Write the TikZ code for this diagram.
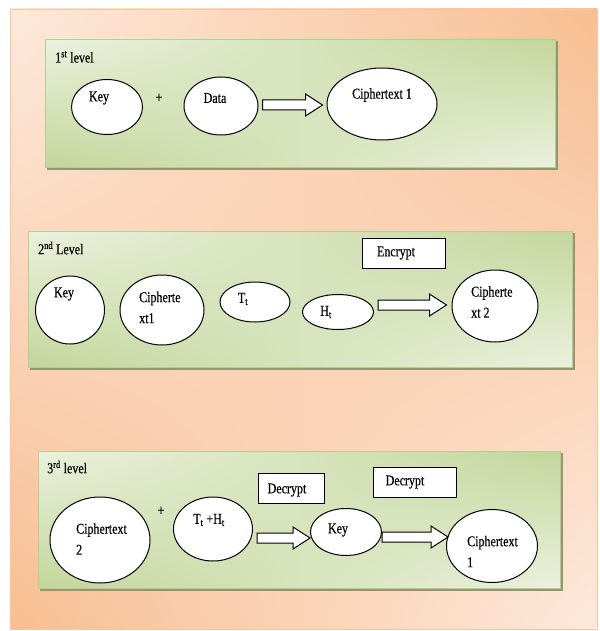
\documentclass[tikz,border=0pt]{standalone}
\usepackage{fontspec}
\setmainfont[FakeStretch=0.8,FakeBold=0.35]{Liberation Serif}
\usetikzlibrary{calc,shadings,shapes.geometric}

\definecolor{peachlight}{HTML}{FDE9DC}
\definecolor{peachdark}{HTML}{F8BE91}
\definecolor{peachrim}{HTML}{F7C6A0}
\definecolor{greenlight}{HTML}{EBF1DE}
\definecolor{greendark}{HTML}{C3D69B}
\definecolor{panelrim}{HTML}{B9CC92}
\definecolor{panelshadow}{HTML}{8F9870}

\tikzset{
  every node/.style={font=\fontsize{15}{21}\selectfont, inner sep=0pt},
  bubble/.style={ellipse, draw=black, line width=1pt, fill=white},
  tagbox/.style={draw=black, line width=1pt, fill=white},
  blockarrow/.style={draw=black, line width=1pt, fill=white, line join=miter},
  backdrop/.style={shading=bilinear interpolation,
    upper left=peachlight, upper right=peachdark,
    lower left=peachdark, lower right=peachlight, draw=peachrim, line width=0.6pt},
  levelpanel/.style={shading=bilinear interpolation,
    upper left=greenlight, upper right=greendark,
    lower left=greendark, lower right=greenlight, draw=panelrim, line width=0.6pt},
  panelshade/.style={fill=panelshadow},
}

% hollow block arrow from coordinate #1 to coordinate #2 (horizontal)
\newcommand{\blockarr}[2]{%
  \draw[blockarrow] let \p1=(#1), \p2=(#2) in
    (\x1,\y1-5pt) -- (\x2-17pt,\y1-5pt) -- (\x2-17pt,\y1-11pt) -- (\x2,\y1)
    -- (\x2-17pt,\y1+11pt) -- (\x2-17pt,\y1+5pt) -- (\x1,\y1+5pt) -- cycle;}

\begin{document}
\begin{tikzpicture}[x=1pt,y=-1pt]
\useasboundingbox (0,0) rectangle (599,631);

% background
\shadedraw[backdrop] (10,9) rectangle (597,629);

% level panels with drop shadows
\fill[panelshade] (47,41) rectangle (558,170);
\shadedraw[levelpanel] (45,39) rectangle (555,167);
\fill[panelshade] (30,233) rectangle (575,370);
\shadedraw[levelpanel] (28,231) rectangle (572,367);
\fill[panelshade] (40,453) rectangle (563,591);
\shadedraw[levelpanel] (38,451) rectangle (560,588);

% ---------- level 1 ----------
\node[anchor=west] (lvl1) at (55,57) {1\textsuperscript{st} level};
\node[bubble, minimum width=71pt, minimum height=55pt] (key1) at (107,107) {};
\node (key1t) at (99,98) {Key};
\node (plus1) at (159,98) {+};
\node[bubble, minimum width=74pt, minimum height=58pt] (data1) at (221,106) {};
\node (data1t) at (215,98) {Data};
\node[bubble, minimum width=110pt, minimum height=72pt] (c1) at (382,104) {};
\node (c1t) at (382,95) {Ciphertext 1};
\coordinate (a1s) at ($(data1.east)+(4,-1)$);
\coordinate (a1e) at ($(c1.west)+(-4,0)$);
\blockarr{a1s}{a1e}

% ---------- level 2 ----------
\node[anchor=west] (lvl2) at (38,248) {2\textsuperscript{nd} Level};
\node[tagbox, minimum width=83pt, minimum height=30pt] (enc) at (403.5,253) {};
\node (enct) at (396,253) {Encrypt};
\node[bubble, minimum width=69pt, minimum height=68pt] (key2) at (70,310) {};
\node (key2t) at (64,294) {Key};
\node[bubble, minimum width=84pt, minimum height=70pt] (c1b) at (162,310) {};
\node[anchor=west, align=left] (c1bt) at (139,307.5) {Cipherte\\xt1};
\node[bubble, minimum width=70pt, minimum height=40pt] (tt) at (255,302) {};
\node (ttt) at (243,299) {T\textsubscript{t}};
\node[bubble, minimum width=71pt, minimum height=35pt] (ht) at (338,312) {};
\node (htt) at (326,312) {H\textsubscript{t}};
\node[bubble, minimum width=86pt, minimum height=72pt] (c2) at (495,306) {};
\node[anchor=west, align=left] (c2t) at (471,302) {Cipherte\\xt 2};
\coordinate (a2s) at ($(ht.east)+(4,-7)$);
\coordinate (a2e) at ($(c2.west)+(-5,0)$);
\blockarr{a2s}{a2e}

% ---------- level 3 ----------
\node[anchor=west] (lvl3) at (47,467) {3\textsuperscript{rd} level};
\node[tagbox, minimum width=66pt, minimum height=30pt] (dec1) at (291,488) {};
\node (dec1t) at (287,490) {Decrypt};
\node[tagbox, minimum width=83pt, minimum height=30pt] (dec2) at (414.5,482) {};
\node (dec2t) at (405,482) {Decrypt};
\node[bubble, minimum width=100pt, minimum height=86pt] (c3a) at (100,540) {};
\node[anchor=west, align=left] (c3at) at (76,539) {Ciphertext\\2};
\node (plus3) at (161,511) {+};
\node[bubble, minimum width=79pt, minimum height=64pt] (th) at (213,529) {};
\node (tht) at (209,520) {T\textsubscript{t} +H\textsubscript{t}};
\node[bubble, minimum width=71pt, minimum height=47pt] (key3) at (346,532) {};
\node (key3t) at (338,530) {Key};
\node[bubble, minimum width=91pt, minimum height=73pt] (c3b) at (492,546) {};
\node[anchor=west, align=left] (c3bt) at (467,551.5) {Ciphertext\\1};
\coordinate (a3s) at ($(th.east)+(4,9)$);
\coordinate (a3e) at (key3.west);
\blockarr{a3s}{a3e}
\coordinate (a4s) at ($(key3.east)+(0,5)$);
\coordinate (a4e) at ($(c3b.west)+(2,0)$);
\blockarr{a4s}{a4e}
\end{tikzpicture}
\end{document}
